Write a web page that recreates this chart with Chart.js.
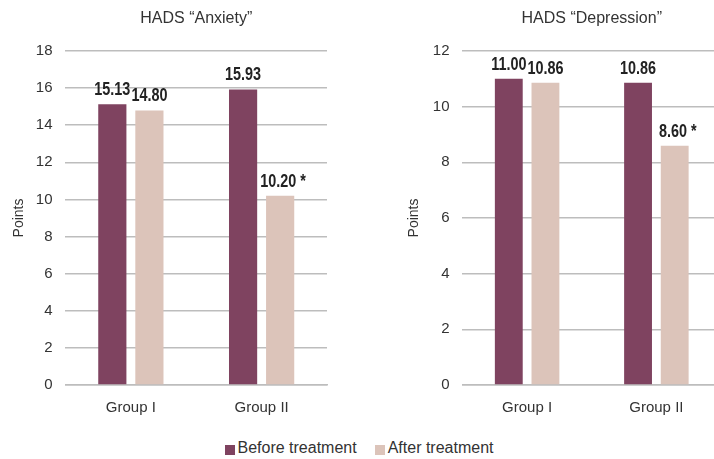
<!DOCTYPE html>
<html>
<head>
<meta charset="utf-8">
<script src="https://cdn.jsdelivr.net/npm/chart.js@4/dist/chart.umd.min.js"></script>
<style>
  html, body { margin: 0; padding: 0; background: #fff; overflow: hidden; }
  #wrap { position: relative; width: 714px; height: 459px; overflow: hidden; }
  #left { position: absolute; left: 0; top: 0; }
  #right { position: absolute; left: 345px; top: 0; }
  #legend {
    position: absolute; left: 2px; top: 439px; width: 714px;
    display: flex; justify-content: center; gap: 18px;
    font-family: "Liberation Sans", Arial, sans-serif;
    font-size: 16px; color: #333;
  }
  #legend span.item { display: flex; align-items: center; }
  #legend span.box { display: inline-block; width: 10px; height: 10px; margin: 3px 3px 0 0; }
</style>
</head>
<body>
<div id="wrap">
  <canvas id="left" width="340" height="431"></canvas>
  <canvas id="right" width="376" height="431"></canvas>
  <div id="legend"></div>
</div>
<script>
const groups = ["Group I", "Group II"];
const seriesNames = ["Before treatment", "After treatment"];
const seriesColors = ["#7f4360", "#dcc4ba"];

const anxietyBefore = [15.13, 15.93];
const anxietyAfter = [14.80, 10.20];
const anxietyAfterMarks = ["", " *"];

const depressionBefore = [11.00, 10.86];
const depressionAfter = [10.86, 8.60];
const depressionAfterMarks = ["", " *"];

const anxietyMax = 18;
const depressionMax = 12;

const FONT = "'Liberation Sans', Arial, sans-serif";

// value labels above bars (squeezed a bit to look like a narrow font)
const valueLabels = {
  id: "valueLabels",
  afterDatasetsDraw(chart) {
    const ctx = chart.ctx;
    chart.data.datasets.forEach((ds, i) => {
      chart.getDatasetMeta(i).data.forEach((bar, j) => {
        const mark = ds.marks ? ds.marks[j] : "";
        const txt = ds.data[j].toFixed(2) + mark;
        ctx.save();
        ctx.font = "bold 18px " + FONT;
        ctx.fillStyle = "#222";
        ctx.textAlign = "center";
        ctx.textBaseline = "bottom";
        ctx.translate(bar.x + (mark ? 3 : 0), bar.y - 5);
        ctx.scale(0.8, 1);
        ctx.fillText(txt, 0, 0);
        ctx.restore();
      });
    });
  }
};

// panel title centred over the plot area, not the whole canvas
const panelTitle = {
  id: "panelTitle",
  afterDraw(chart, args, opts) {
    const ctx = chart.ctx;
    const a = chart.chartArea;
    ctx.save();
    ctx.font = "16px " + FONT;
    ctx.fillStyle = "#333";
    ctx.textAlign = "center";
    ctx.textBaseline = "middle";
    ctx.fillText(opts.text, (a.left + a.right) / 2, 19);
    ctx.restore();
  }
};

function makeChart(id, title, before, after, marks, max, padLeft, padRight, titleGap) {
  return new Chart(document.getElementById(id), {
    type: "bar",
    data: {
      labels: groups,
      datasets: [
        { label: seriesNames[0], data: before, backgroundColor: seriesColors[0] },
        { label: seriesNames[1], data: after, backgroundColor: seriesColors[1], marks: marks }
      ]
    },
    options: {
      responsive: false,
      animation: false,
      layout: { padding: { left: padLeft, right: padRight, top: 51, bottom: 0 } },
      datasets: { bar: { categoryPercentage: 0.567, barPercentage: 0.76 } },
      plugins: {
        legend: { display: false },
        tooltip: { enabled: false },
        title: { display: false },
        panelTitle: { text: title }
      },
      scales: {
        x: {
          grid: { display: false, drawTicks: false },
          border: { display: true, color: "#bdbdbd", width: 1.5 },
          ticks: { color: "#333", font: { family: FONT, size: 15 }, padding: 14 }
        },
        y: {
          min: 0,
          max: max,
          ticks: { stepSize: 2, color: "#333", font: { family: FONT, size: 15 }, padding: 13 },
          grid: { color: "#bdbdbd", lineWidth: 1.5, drawTicks: false },
          border: { display: false },
          title: {
            display: true,
            text: "Points",
            color: "#333",
            font: { family: FONT, size: 14 },
            padding: { top: 0, bottom: titleGap }
          }
        }
      }
    },
    plugins: [valueLabels, panelTitle]
  });
}

makeChart("left", "HADS \u201CAnxiety\u201D", anxietyBefore, anxietyAfter, anxietyAfterMarks, anxietyMax, 11, 13, -5);
makeChart("right", "HADS \u201CDepression\u201D", depressionBefore, depressionAfter, depressionAfterMarks, depressionMax, 61, 0, -3);

// shared legend
const legend = document.getElementById("legend");
seriesNames.forEach((name, i) => {
  const item = document.createElement("span");
  item.className = "item";
  item.innerHTML = `<span class="box" style="background:${seriesColors[i]}"></span>${name}`;
  legend.appendChild(item);
});
</script>
</body>
</html>
